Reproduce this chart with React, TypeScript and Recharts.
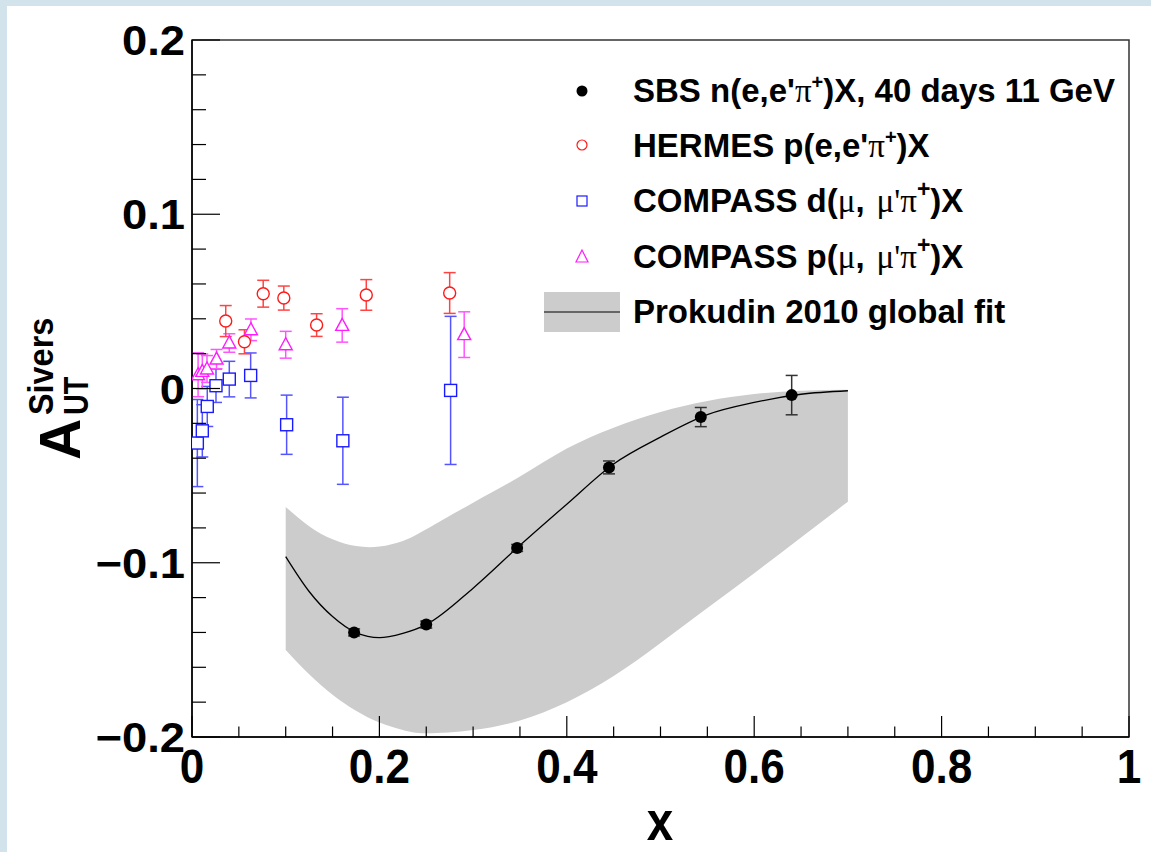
import React from 'react';
import { ComposedChart, Area, Line, Scatter, XAxis, YAxis, ErrorBar, ReferenceArea } from 'recharts';

const FONT = '"Liberation Sans", Arial, Helvetica, sans-serif';
const SERIF = '"Liberation Serif", "DejaVu Serif", serif';

// Axis ticks
const xTicks = [0, 0.05, 0.1, 0.15, 0.2, 0.25, 0.3, 0.35, 0.4, 0.45, 0.5, 0.55, 0.6, 0.65, 0.7, 0.75, 0.8, 0.85, 0.9, 0.95, 1];
const xMajor = [0, 0.2, 0.4, 0.6, 0.8, 1];
const xLabels = ['0', '0.2', '0.4', '0.6', '0.8', '1'];
const yTicks = [-0.2, -0.18, -0.16, -0.14, -0.12, -0.1, -0.08, -0.06, -0.04, -0.02, 0, 0.02, 0.04, 0.06, 0.08, 0.1, 0.12, 0.14, 0.16, 0.18, 0.2];
const yMajor = [-0.2, -0.1, 0, 0.1, 0.2];
const yLabels = ['\u22120.2', '\u22120.1', '0', '0.1', '0.2'];

// Prokudin 2010 global fit (curve and band)
const fitX = [0.1, 0.125, 0.15, 0.175, 0.2, 0.225, 0.25, 0.3, 0.35, 0.4, 0.45, 0.5, 0.55, 0.6, 0.65, 0.7];
const fitY = [-0.0965, -0.1165, -0.1309, -0.1401, -0.143, -0.1405, -0.1355, -0.1146, -0.09, -0.0664, -0.0433, -0.0279, -0.015, -0.008, -0.0033, -0.0013];
const bandLo = [-0.15, -0.164, -0.1757, -0.1849, -0.1917, -0.196, -0.1979, -0.196, -0.1905, -0.18, -0.165, -0.146, -0.126, -0.106, -0.0855, -0.065];
const bandHi = [-0.068, -0.079, -0.0865, -0.0904, -0.0907, -0.0875, -0.0808, -0.0655, -0.0505, -0.0345, -0.0225, -0.0135, -0.0072, -0.0032, -0.0013, -0.0007];

// SBS n(e,e'pi+)X projection
const sbsX = [0.173, 0.25, 0.347, 0.445, 0.543, 0.64];
const sbsY = [-0.14, -0.1355, -0.0915, -0.0453, -0.0164, -0.0038];
const sbsErr = [0.002, 0.002, 0.002, 0.0037, 0.0055, 0.0113];

// HERMES p(e,e'pi+)X
const hermesX = [0.036, 0.056, 0.076, 0.098, 0.133, 0.186, 0.275];
const hermesY = [0.0387, 0.0268, 0.0544, 0.0519, 0.0364, 0.0537, 0.0548];
const hermesErr = [0.0089, 0.0069, 0.0077, 0.0069, 0.0065, 0.0088, 0.0117];

// COMPASS d(mu, mu'pi+)X
const compDX = [0.0057, 0.011, 0.0163, 0.0256, 0.0398, 0.0626, 0.101, 0.161, 0.276];
const compDY = [-0.0313, -0.0243, -0.0103, 0.0016, 0.0054, 0.0075, -0.0208, -0.03, -0.0011];
const compDErr = [0.025, 0.015, 0.0115, 0.0096, 0.0102, 0.0129, 0.017, 0.025, 0.0425];

// COMPASS p(mu, mu'pi+)X
const compPX = [0.0065, 0.011, 0.016, 0.0262, 0.0398, 0.0629, 0.1, 0.1603, 0.2905];
const compPY = [0.0079, 0.0098, 0.0112, 0.0169, 0.0261, 0.0337, 0.0251, 0.0362, 0.0309];
const compPErr = [0.0126, 0.01, 0.0077, 0.0055, 0.0053, 0.0062, 0.0077, 0.0096, 0.0131];

const fitData = fitX.map((x, i) => ({ x, fit: fitY[i], band: [bandLo[i], bandHi[i]] }));
const mk = (xs: number[], ys: number[], es: number[]) => xs.map((x, i) => ({ x, y: ys[i], err: es[i] }));
const sbsData = mk(sbsX, sbsY, sbsErr);
const hermesData = mk(hermesX, hermesY, hermesErr);
const compDData = mk(compDX, compDY, compDErr);
const compPData = mk(compPX, compPY, compPErr);

const idxOf = (arr: number[], v: number) => arr.findIndex((m) => Math.abs(m - v) < 1e-9);

const YTick = (props: any) => {
  const { x, y, payload } = props;
  const i = idxOf(yMajor, payload.value);
  const major = i >= 0;
  return (
    <g>
      <line x1={x} x2={x + (major ? 28 : 14)} y1={y} y2={y} stroke="#000" strokeWidth={1.2} />
      {major && (
        <text transform={`translate(${x - 7},${y + 15}) scale(1.08,1)`} textAnchor="end" fontSize={42} fontWeight="bold" fontFamily={FONT} fill="#000">
          {yLabels[i]}
        </text>
      )}
    </g>
  );
};

const XTick = (props: any) => {
  const { x, y, payload } = props;
  const i = idxOf(xMajor, payload.value);
  const major = i >= 0;
  return (
    <g>
      <line x1={x} x2={x} y1={y} y2={y - (major ? 21 : 10.5)} stroke="#000" strokeWidth={1.2} />
      {major && (
        <text transform={`translate(${x},${y + 46}) scale(0.9,1)`} textAnchor="middle" fontSize={49} fontWeight="bold" fontFamily={FONT} fill="#000">
          {xLabels[i]}
        </text>
      )}
    </g>
  );
};

const SbsDot = (p: any) => <circle cx={p.cx} cy={p.cy} r={6} fill="#000" />;
const RedCircle = (p: any) => <circle cx={p.cx} cy={p.cy} r={6} fill="#fff" stroke="#ff1a1a" strokeWidth={1.4} />;
const BlueSquare = (p: any) => <rect x={p.cx - 6} y={p.cy - 6} width={12} height={12} fill="#fff" stroke="#1a1aff" strokeWidth={1.4} />;
const MagTriangle = (p: any) => (
  <polygon points={`${p.cx},${p.cy - 7} ${p.cx - 6.5},${p.cy + 5} ${p.cx + 6.5},${p.cy + 5}`} fill="#fff" stroke="#ff1aff" strokeWidth={1.4} />
);

const Legend = () => (
  <g fontFamily={FONT} fontWeight="bold" fontSize={33} fill="#000">
    <circle cx={582} cy={91} r={5.5} fill="#000" />
    <text x={633} y={102}>
      SBS n(e,e'<tspan fontFamily={SERIF} fontWeight="normal">π</tspan>
      <tspan fontSize={20} dy={-13}>+</tspan>
      <tspan dy={13}>)X, 40 days 11 GeV</tspan>
    </text>

    <circle cx={582} cy={145} r={5} fill="none" stroke="#ff1a1a" strokeWidth={1.2} />
    <text x={633} y={157}>
      HERMES p(e,e'<tspan fontFamily={SERIF} fontWeight="normal">π</tspan>
      <tspan fontSize={20} dy={-13}>+</tspan>
      <tspan dy={13}>)X</tspan>
    </text>

    <rect x={577} y={196} width={10} height={10} fill="none" stroke="#1a1aff" strokeWidth={1.2} />
    <text x={633} y={212}>
      COMPASS d(<tspan fontFamily={SERIF} fontWeight="normal">μ</tspan>,
      <tspan dx={12} fontFamily={SERIF} fontWeight="normal">μ'π</tspan>
      <tspan fontSize={23} dy={-15}>+</tspan>
      <tspan dy={15}>)X</tspan>
    </text>

    <polygon points="582,250 576,262 588,262" fill="none" stroke="#ff1aff" strokeWidth={1.2} />
    <text x={633} y={268}>
      COMPASS p(<tspan fontFamily={SERIF} fontWeight="normal">μ</tspan>,
      <tspan dx={12} fontFamily={SERIF} fontWeight="normal">μ'π</tspan>
      <tspan fontSize={23} dy={-15}>+</tspan>
      <tspan dy={15}>)X</tspan>
    </text>

    <rect x={544} y={292} width={76} height={40} fill="#cccccc" />
    <line x1={544} x2={620} y1={312} y2={312} stroke="#000" strokeWidth={1.2} />
    <text x={633} y={323}>Prokudin 2010 global fit</text>
  </g>
);

const Titles = () => (
  <g fontFamily={FONT} fontWeight="bold" fill="#000">
    <text transform="translate(660,840) scale(0.85,1)" textAnchor="middle" fontSize={56}>x</text>
    <g transform="translate(80,460) rotate(-90)">
      <text x={0} y={0} fontSize={57}>A</text>
      <text transform="translate(45,8) scale(0.8,1)" fontSize={36}>UT</text>
      <text transform="translate(45,-27) scale(0.9,1)" fontSize={36}>Sivers</text>
    </g>
  </g>
);

export default function App() {
  return (
    <div style={{ position: 'fixed', left: 0, top: 0, width: 1151, height: 852, background: '#d3e3ec', overflow: 'hidden' }}>
      <div style={{ position: 'absolute', left: 7, top: 6, width: 1144, height: 846, background: '#fff' }} />
      <div style={{ position: 'absolute', left: 0, top: 0 }}>
        <ComposedChart width={1151} height={852} data={fitData} margin={{ top: 40, right: 22, bottom: 85, left: 132 }}>
          <XAxis
            dataKey="x"
            type="number"
            domain={[0, 1]}
            ticks={xTicks}
            interval={0}
            tickSize={0}
            tickMargin={0}
            tickLine={false}
            tick={<XTick />}
            height={30}
            axisLine={{ stroke: '#000', strokeWidth: 1.5 }}
            allowDataOverflow
          />
          <YAxis
            type="number"
            domain={[-0.2, 0.2]}
            ticks={yTicks}
            interval={0}
            tickSize={0}
            tickMargin={0}
            tickLine={false}
            tick={<YTick />}
            width={60}
            axisLine={{ stroke: '#000', strokeWidth: 1.5 }}
            allowDataOverflow
          />
          <Area dataKey="band" type="natural" fill="#cccccc" fillOpacity={1} stroke="none" isAnimationActive={false} activeDot={false} />
          <Line dataKey="fit" type="monotone" stroke="#000" strokeWidth={1.3} dot={false} activeDot={false} isAnimationActive={false} />
          <Scatter data={compDData} dataKey="y" shape={<BlueSquare />} isAnimationActive={false}>
            <ErrorBar dataKey="err" direction="y" width={6} stroke="#5555ff" strokeWidth={1.5} isAnimationActive={false} />
          </Scatter>
          <Scatter data={compPData} dataKey="y" shape={<MagTriangle />} isAnimationActive={false}>
            <ErrorBar dataKey="err" direction="y" width={6} stroke="#ff55ff" strokeWidth={1.5} isAnimationActive={false} />
          </Scatter>
          <Scatter data={hermesData} dataKey="y" shape={<RedCircle />} isAnimationActive={false}>
            <ErrorBar dataKey="err" direction="y" width={6} stroke="#ff4444" strokeWidth={1.5} isAnimationActive={false} />
          </Scatter>
          <Scatter data={sbsData} dataKey="y" shape={<SbsDot />} isAnimationActive={false}>
            <ErrorBar dataKey="err" direction="y" width={6} stroke="#333" strokeWidth={1.5} isAnimationActive={false} />
          </Scatter>
          <ReferenceArea x1={0} x2={1} y1={-0.2} y2={0.2} fill="none" stroke="#333" strokeWidth={1.5} ifOverflow="visible" />
          <Legend />
          <Titles />
        </ComposedChart>
      </div>
    </div>
  );
}
